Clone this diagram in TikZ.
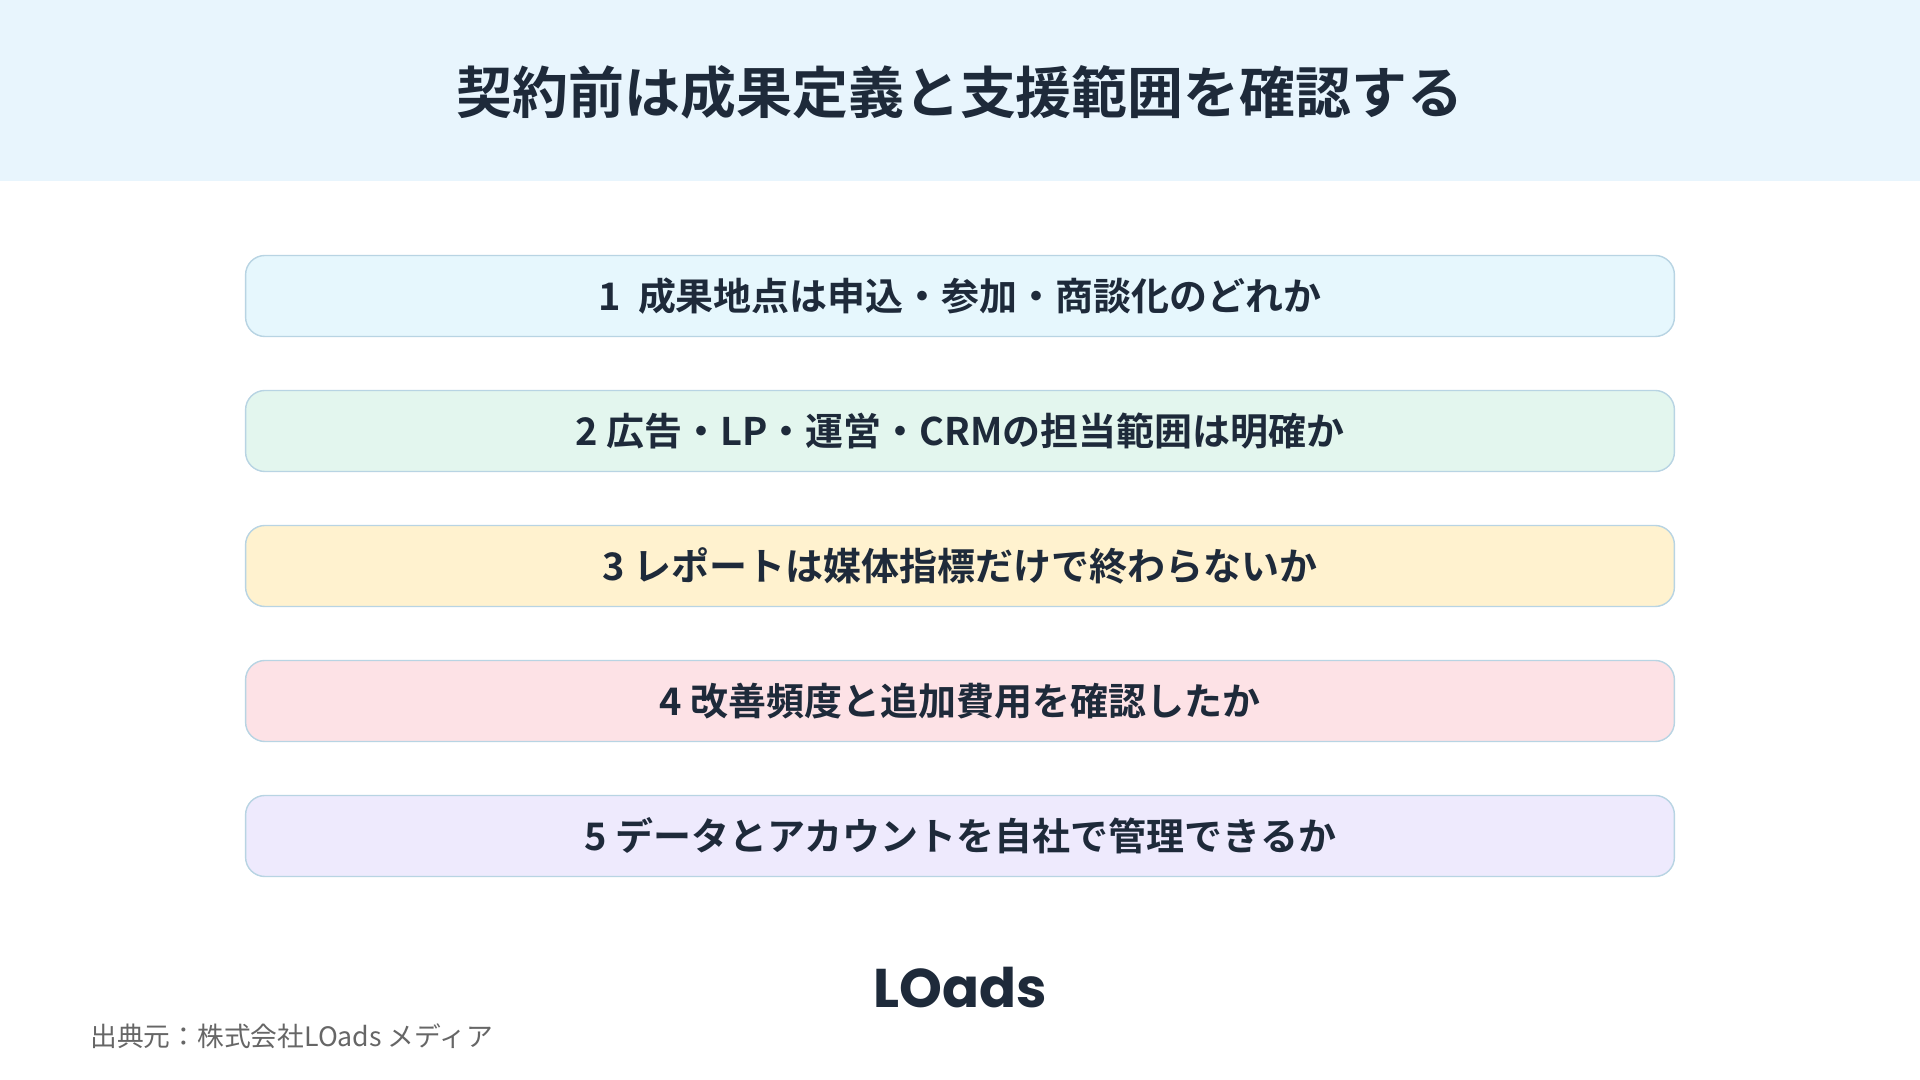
\documentclass[tikz,border=0pt]{standalone}
\usepackage{fontspec}
\newfontfamily\jpbold{Noto Sans CJK JP Bold}
\newfontfamily\jp{Noto Sans CJK JP}
\newfontfamily\logofont{Poppins Bold}
\definecolor{ink}{HTML}{1E2A3A}
\definecolor{band}{HTML}{E8F5FD}
\definecolor{edge}{HTML}{B8D4E3}
\definecolor{fillA}{HTML}{E6F7FD}
\definecolor{fillB}{HTML}{E3F6EE}
\definecolor{fillC}{HTML}{FFF2CF}
\definecolor{fillD}{HTML}{FDE2E6}
\definecolor{fillE}{HTML}{EEEAFD}
\begin{document}
\begin{tikzpicture}[
      x=0.01cm, y=-0.01cm,
      every node/.style={align=center, text=ink},
      item/.style={draw=edge, line width=0.4pt, rounded corners=5.5pt,
        minimum width=14.28cm, minimum height=0.81cm,
        font=\jpbold\fontsize{10.8}{12}\selectfont}
    ]

% Background
      \fill[white] (0,0) rectangle (1920,1080);
      \fill[band] (0,0) rectangle (1920,181);
      \node[font=\jpbold\fontsize{15.9}{18}\selectfont] (title) at (960,92)
        {契約前は成果定義と支援範囲を確認する};

% Items
      \node[item, fill=fillA] (i1) at (960,296) {1\ \ 成果地点は申込・参加・商談化のどれか};
      \node[item, fill=fillB] (i2) at (960,431) {2 広告・LP・運営・CRMの担当範囲は明確か};
      \node[item, fill=fillC] (i3) at (960,566) {3 レポートは媒体指標だけで終わらないか};
      \node[item, fill=fillD] (i4) at (960,701) {4 改善頻度と追加費用を確認したか};
      \node[item, fill=fillE] (i5) at (960,836) {5 データとアカウントを自社で管理できるか};

% Footer
      \node[font=\logofont\fontsize{15.5}{18}\selectfont] (logo) at (960,988) {LOads};
      \node[anchor=west, text=gray!80!black, font=\jp\fontsize{7.6}{9}\selectfont] (src) at (78,1036)
        {出典元：株式会社LOads メディア};

    \end{tikzpicture}
\end{document}
